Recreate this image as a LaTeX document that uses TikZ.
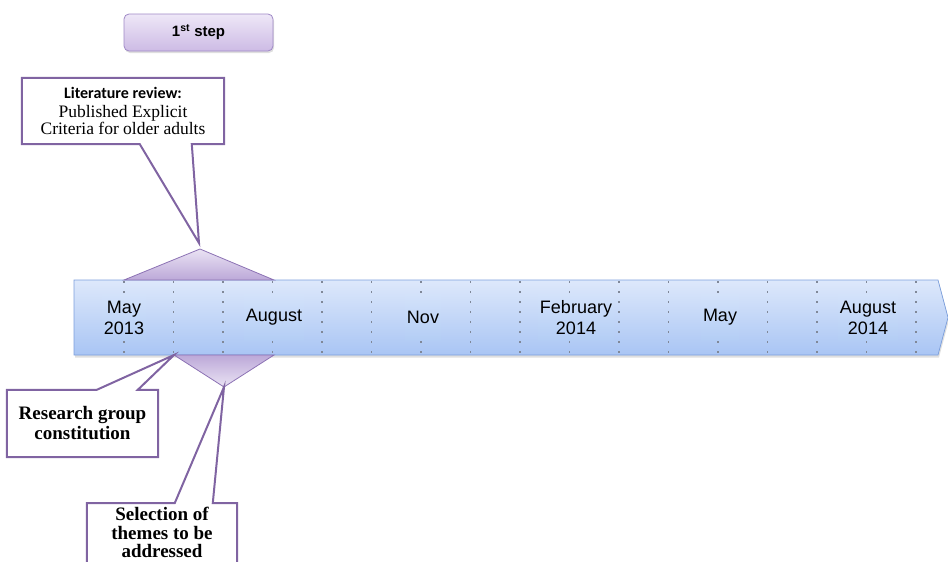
\documentclass[tikz,border=0pt]{standalone}
\usepackage{fontspec}
\setmainfont{Liberation Serif}
\setsansfont{Liberation Sans}
\newfontfamily\calibrifont{Carlito}
\usetikzlibrary{calc,shadows}
\definecolor{barTop}{HTML}{DDE8FB}
\definecolor{barBot}{HTML}{A9C5F4}
\definecolor{barLine}{HTML}{7C9FDC}
\definecolor{monthTop}{RGB}{211,226,250}
\definecolor{monthBot}{RGB}{179,205,245}
\definecolor{dotGray}{RGB}{128,136,152}
\definecolor{markTop}{HTML}{EAE3F4}
\definecolor{markBot}{HTML}{BCA8D8}
\definecolor{markLine}{HTML}{8C72B4}
\definecolor{stepTop}{HTML}{EEE7F7}
\definecolor{stepBot}{HTML}{CDBBE5}
\definecolor{stepLine}{HTML}{9F89C6}
\definecolor{calloutLine}{HTML}{8064A2}
\tikzset{
  stepbox/.style={rectangle,draw=stepLine,line width=0.8pt,rounded corners=5pt,top color=stepTop,bottom color=stepBot,minimum width=149pt,minimum height=37pt,font=\sffamily\bfseries\fontsize{15}{17}\selectfont,drop shadow={opacity=0.25,shadow xshift=1pt,shadow yshift=-2pt}},
  barshape/.style={draw=barLine,line width=0.7pt,top color=barTop,bottom color=barBot,drop shadow={opacity=0.25,shadow xshift=1pt,shadow yshift=-2.5pt}},
  tickline/.style={draw=dotGray,line width=1.6pt,dash pattern=on 1.6pt off 8.4pt},
  month/.style={align=center,inner xsep=2pt,inner ysep=0pt,minimum height=46pt,top color=monthTop,bottom color=monthBot,font=\sffamily\fontsize{18}{21}\selectfont},
  marker/.style={draw=markLine,line width=0.8pt,top color=markTop,bottom color=markBot},
  markerdown/.style={draw=markLine,line width=0.8pt,top color=markBot,bottom color=markTop},
  callout/.style={draw=calloutLine,line width=2pt,line join=miter},
  calloutbox/.style={rectangle,align=center,inner sep=0pt}
}
\begin{document}
\begin{tikzpicture}[x=1pt,y=-1pt]

\path[use as bounding box,clip] (0,0) rectangle (948,562);

\node[stepbox] (step1) at (198.5,32.5) {1\textsuperscript{st} step};

\path[barshape] (74,280) -- (938,280) -- (948,317.5) -- (938,355) -- (74,355) -- cycle;
\foreach \i in {0,...,16}
  \draw[tickline] ({124+49.5*\i},281) -- ++(0,74);

\coordinate (upApex) at (200,249);
\coordinate (downApex) at (224,387);
\coordinate (litTip) at (199,243);
\coordinate (resTip) at (174,355);

\path[marker] (124,280) -- (upApex) -- (274,280) -- cycle;
\path[markerdown] (174,355) -- (274,355) -- (downApex) -- cycle;

\node[month] (may13) at (124,317.5) {May\\2013};
\node[month] (aug13) at (274,317.5) {August};
\node[month] (nov13) at (423,317.5) {Nov};
\node[month] (feb14) at (576,317.5) {February\\2014};
\node[month] (may14) at (720,317.5) {May};
\node[month] (aug14) at (868,317.5) {August\\2014};

\node[calloutbox,minimum width=202pt,minimum height=66pt,font=\fontsize{17.5}{17}\selectfont] (litrev) at (123,111)
  {{\calibrifont\bfseries\fontsize{16}{17}\selectfont Literature review:}\\[2pt] Published Explicit\\ Criteria for older adults};
\node[calloutbox,minimum width=151pt,minimum height=67pt,font=\bfseries\fontsize{19}{20}\selectfont] (resgroup) at (82.5,423.5)
  {Research group\\ constitution};
\node[calloutbox,minimum width=150pt,inner ysep=4pt,anchor=north,font=\bfseries\fontsize{19}{18.5}\selectfont] (selthemes) at (162,503)
  {Selection of\\ themes to be\\ addressed};

\draw[callout] (litrev.north west) -- (litrev.north east) -- (litrev.south east) -- ($(litrev.south west)+(170,0)$) -- (litTip) -- ($(litrev.south west)+(118,0)$) -- (litrev.south west) -- cycle;
\draw[callout] (resgroup.south west) -- (resgroup.north west) -- ($(resgroup.north west)+(90,0)$) -- (resTip) -- ($(resgroup.north west)+(131,0)$) -- (resgroup.north east) -- (resgroup.south east) -- cycle;
\draw[callout] (selthemes.south west) -- (selthemes.north west) -- ($(selthemes.north west)+(88,0)$) -- (downApex) -- ($(selthemes.north west)+(126,0)$) -- (selthemes.north east) -- (selthemes.south east);

\end{tikzpicture}
\end{document}
